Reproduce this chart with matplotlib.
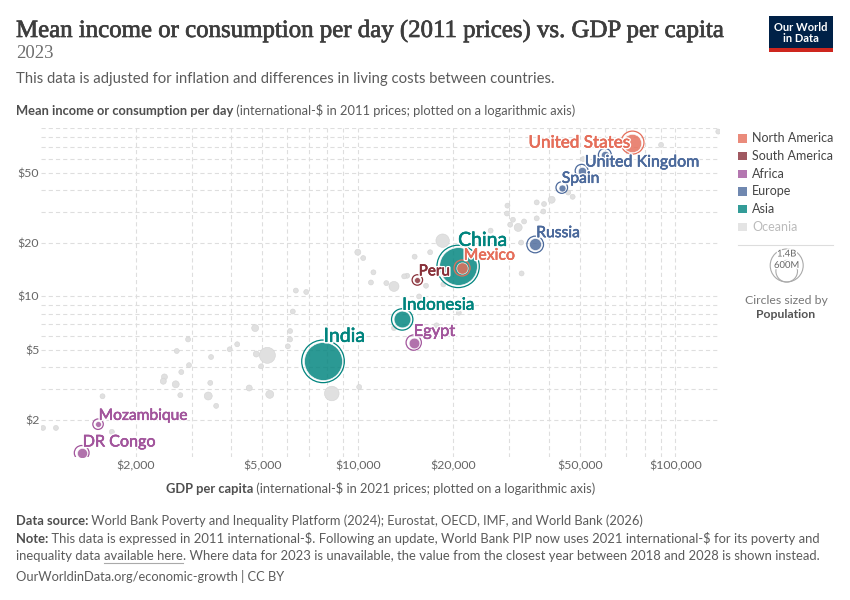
import matplotlib
matplotlib.use("Agg")
import matplotlib.pyplot as plt
import matplotlib.patheffects as pe
from matplotlib.patches import Rectangle, Circle
from matplotlib.ticker import NullFormatter
import numpy as np

plt.rcParams['font.family'] = ['Lato', 'DejaVu Sans']
plt.rcParams['lines.scale_dashes'] = False
plt.rcParams['text.parse_math'] = False

# highlighted countries
countries = ['India', 'China', 'United States', 'Indonesia', 'Russia', 'Mexico', 'Egypt',
             'DR Congo', 'United Kingdom', 'France', 'Spain', 'Peru', 'Mozambique']
continents = ['Asia', 'Asia', 'North America', 'Asia', 'Europe', 'North America', 'Africa',
              'Africa', 'Europe', 'Europe', 'Europe', 'South America', 'Africa']
gdp_pc = [7770, 20700, 73300, 13800, 36200, 21300, 15000, 1350, 60000, 50700, 43900, 15400, 1520]
income_day = [4.29, 14.8, 74.4, 7.41, 19.7, 14.5, 5.48, 1.30, 63.4, 51.5, 41.4, 12.4, 1.89]
population = [1430e6, 1410e6, 335e6, 278e6, 144e6, 128e6, 113e6, 102e6, 68e6, 68e6, 48e6, 34e6, 34e6]

# every other country (grey)
other_gdp = [136600, 90200, 51300, 46000, 47500, 40800, 38600, 36600, 38400, 29600, 29500, 30800,
             33400, 36600, 32000, 30200, 26200, 18500, 32700, 32800, 15100, 16900, 14000, 14300,
             16400, 18600, 15600, 20800, 10000, 10400, 11200, 11000, 12300, 13000, 6380, 6880,
             6240, 17700, 13000, 8280, 10100, 6120, 6120, 6020, 4750, 4790, 5190, 4960, 5280,
             4550, 3950, 4170, 2690, 2920, 2460, 2440, 2670, 2780, 2760, 2940, 3430, 3450, 3380,
             3580, 1570, 1680, 1020, 1120]
other_income = [85.9, 72.2, 60.0, 38.8, 36.7, 35.3, 33.4, 34.1, 30.3, 32.7, 29.5, 27.2,
                26.6, 27.7, 24.6, 25.5, 23.6, 20.7, 20.2, 13.5, 16.8, 17.8, 13.0, 13.1,
                11.5, 11.7, 10.0, 8.09, 17.8, 16.5, 13.7, 12.0, 11.9, 11.4, 10.8, 10.6,
                8.22, 6.86, 6.62, 2.82, 3.07, 6.37, 5.71, 5.22, 6.62, 4.72, 4.64, 4.02, 2.79,
                3.03, 5.02, 5.36, 4.91, 5.71, 3.50, 3.31, 3.18, 3.73, 2.76, 4.08, 3.24, 4.54, 2.73,
                2.40, 2.72, 1.71, 1.80, 1.80]
other_pop = [1e6, 9e6, 9e6, 10e6, 10e6, 48e6, 10e6, 10e6, 10e6, 10e6, 10e6, 10e6,
             10e6, 10e6, 63e6, 10e6, 10e6, 178e6, 10e6, 10e6, 10e6, 10e6, 5e6, 5e6,
             10e6, 10e6, 10e6, 10e6, 36e6, 10e6, 10e6, 10e6, 10e6, 99e6, 10e6, 10e6,
             10e6, 10e6, 10e6, 211e6, 15e6, 10e6, 10e6, 10e6, 48e6, 36e6, 253e6, 10e6, 63e6,
             36e6, 10e6, 10e6, 10e6, 10e6, 36e6, 36e6, 48e6, 10e6, 10e6, 10e6, 10e6, 10e6, 63e6,
             10e6, 10e6, 10e6, 10e6, 10e6]

x_ticks = [2000, 5000, 10000, 20000, 50000, 100000]
x_tick_labels = ['$2,000', '$5,000', '$10,000', '$20,000', '$50,000', '$100,000']
y_ticks = [2, 5, 10, 20, 50]
y_tick_labels = ['$2', '$5', '$10', '$20', '$50']

legend_items = ['North America', 'South America', 'Africa', 'Europe', 'Asia', 'Oceania']
colors = {'North America': '#E56E5A', 'South America': '#883039', 'Africa': '#A2559C',
          'Europe': '#4C6A9C', 'Asia': '#00847E', 'Oceania': '#9A5129'}

# label placement: dx, dy (px, up is positive), alignment, font size
label_pos = {
    'United States': (-2, 0, 'right', 12.3),
    'United Kingdom': (-20, -7.7, 'left', 11.5),
    'Spain': (0, 8.7, 'left', 11.3),
    'Russia': (1, 11.3, 'left', 11.3),
    'China': (0, 26, 'left', 14),
    'Mexico': (1.6, 12.3, 'left', 11.4),
    'Peru': (1.3, 8.6, 'left', 11),
    'Indonesia': (0, 14.7, 'left', 12.3),
    'Egypt': (0, 10.6, 'left', 11.8),
    'India': (0.5, 25, 'left', 14),
    'Mozambique': (0.6, 8.3, 'left', 11.2),
    'DR Congo': (1, 10.4, 'left', 11.6),
}


def radius(p):
    return max(2.5, 19 * np.sqrt(p / 1.43e9))


def msize(r):
    return (2 * r * 0.72) ** 2


fig = plt.figure(figsize=(8.5, 6), dpi=100)
W, H = 850, 600
left, right, top, bottom = 41, 720, 128, 457
ax = fig.add_axes([left / W, 1 - bottom / H, (right - left) / W, (bottom - top) / H])
ax.set_xscale('log')
ax.set_yscale('log')
ax.set_xlim(1005, 138300)
ax.set_ylim(1.232, 88.9)

ax.set_xticks(x_ticks, x_tick_labels)
ax.set_yticks(y_ticks, y_tick_labels)
minor_x = [k * 10 ** e for e in (3, 4) for k in range(2, 10) if k * 10 ** e not in x_ticks]
minor_y = [k * 10 ** e for e in (0, 1) for k in range(2, 10) if k * 10 ** e not in y_ticks]
ax.set_xticks(minor_x, minor=True)
ax.set_yticks(minor_y, minor=True)
ax.xaxis.set_minor_formatter(NullFormatter())
ax.yaxis.set_minor_formatter(NullFormatter())
ax.tick_params(which='both', length=0, labelsize=8.9, labelcolor='#666666')
ax.tick_params(axis='x', pad=2.5)
ax.tick_params(axis='y', pad=1.2)
ax.grid(which='both', color='#dedede', linestyle=(0, (3, 2.2)), linewidth=0.8)
ax.set_axisbelow(True)
for s in ax.spines.values():
    s.set_visible(False)

# grey countries, largest first
order = np.argsort(other_pop)[::-1]
ax.scatter(np.array(other_gdp)[order], np.array(other_income)[order],
           s=[msize(radius(other_pop[i])) for i in order],
           c='#e0e0e0', edgecolors='#d4d4d4', linewidths=0.4, zorder=2)

# highlighted countries
for name, cont, x, y, p in zip(countries, continents, gdp_pc, income_day, population):
    col = colors[cont]
    r = radius(p)
    ax.scatter([x], [y], s=msize(r + 2.3), facecolors='none', edgecolors=col,
               linewidths=0.9, zorder=3)
    ax.scatter([x], [y], s=msize(r), c=col, alpha=0.83, edgecolors='white',
               linewidths=0.5, zorder=3)
for name, cont, x, y in zip(countries, continents, gdp_pc, income_day):
    if name not in label_pos:
        continue
    dx, dy, ha, fs = label_pos[name]
    col = colors[cont]
    fx = [pe.withStroke(linewidth=2.4, foreground='white'),
          pe.Stroke(linewidth=0.35, foreground=col), pe.Normal()]
    ax.annotate(name, (x, y), xytext=(dx * 0.72, dy * 0.72), textcoords='offset points',
                ha=ha, va='center', fontsize=fs, color=col, zorder=5, path_effects=fx)

# overlay in pixel coordinates for header, footer and legends
ov = fig.add_axes([0, 0, 1, 1])
ov.set_xlim(0, W)
ov.set_ylim(H, 0)
ov.axis('off')
renderer = fig.canvas.get_renderer()


def text_width(t):
    return t.get_window_extent(renderer).width


def rich(x, y, parts, size, center=False, color='#5b5b5b'):
    arts = []
    cx = x
    for txt, weight, c in parts:
        t = ov.text(cx, y, txt, fontsize=size, fontweight=weight, color=c or color,
                    va='baseline', ha='left')
        arts.append(t)
        cx += text_width(t)
    if center:
        shift = (cx - x) / 2
        for t in arts:
            t.set_x(t.get_position()[0] - shift)
    return arts


title_fx = [pe.withStroke(linewidth=0.5, foreground='#3d3d3d')]
ov.text(16, 37, 'Mean income or consumption per day (2011 prices) vs. GDP per capita',
        fontfamily='Liberation Serif', fontsize=17.9, color='#3d3d3d', va='baseline',
        path_effects=title_fx)
ov.text(16, 58, '2023', fontfamily='Liberation Serif', fontsize=13.5, color='#6e6e6e',
        va='baseline')
ov.text(16, 83.5, 'This data is adjusted for inflation and differences in living costs between countries.',
        fontsize=10.7, color='#5b5b5b', va='baseline')

fs = 9.3
rich(16, 115, [('Mean income or consumption per day', 'bold', '#4e4e4e'),
               (' (international-$ in 2011 prices; plotted on a logarithmic axis)', 'normal', None)],
     fs)
rich((left + right) / 2, 493, [('GDP per capita', 'bold', '#4e4e4e'),
                               (' (international-$ in 2021 prices; plotted on a logarithmic axis)', 'normal', None)],
     fs, center=True)

# legend
for i, item in enumerate(legend_items):
    yc = 138.3 + i * 17.7
    faded = item == 'Oceania'
    ov.add_patch(Rectangle((738.3, yc - 4.2), 8.5, 8.5,
                           facecolor='#e4e4e4' if faded else colors[item],
                           alpha=1 if faded else 0.8, edgecolor='none'))
    ov.text(752.3, yc, item, fontsize=9, color='#bbbbbb' if faded else '#444444', va='center')
ov.plot([738, 833], [245, 245], color='#dddddd', lw=0.8)

# size legend
cx, base = 786.7, 282
for pop_val, lab in [(1.4e9, '1.4B'), (0.6e9, '600M')]:
    r = 16.5 * np.sqrt(pop_val / 1.4e9)
    ov.add_patch(Circle((cx, base - r), r, facecolor='none', edgecolor='#aaaaaa', lw=0.8))
    ov.text(cx, base - 2 * r + 5, lab, fontsize=6.8, color='#666666', ha='center', va='center',
            path_effects=[pe.withStroke(linewidth=2, foreground='white')])
ov.text(786, 300, 'Circles sized by', fontsize=8.8, color='#777777', ha='center', va='center')
ov.text(786, 314, 'Population', fontsize=8.8, fontweight='bold', color='#555555', ha='center',
        va='center')

# logo
ov.add_patch(Rectangle((769, 16), 64.3, 32.3, facecolor='#002147', edgecolor='none'))
ov.add_patch(Rectangle((769, 48.3), 64.3, 3.4, facecolor='#ce261e', edgecolor='none'))
ov.text(801, 27.7, 'Our World', fontsize=8, fontweight='bold', color='white', ha='center', va='center')
ov.text(801, 38.5, 'in Data', fontsize=8, fontweight='bold', color='white', ha='center', va='center')

# footer
note_fs = 9.4
rich(16, 525, [('Data source:', 'bold', '#4e4e4e'),
               (' World Bank Poverty and Inequality Platform (2024); Eurostat, OECD, IMF, and World Bank (2026)', 'normal', None)], fs)
rich(16, 543, [('Note:', 'bold', '#4e4e4e'),
               (' This data is expressed in 2011 international-$. Following an update, World Bank PIP now uses 2021 international-$ for its poverty and', 'normal', None)], note_fs)
parts = rich(16, 560, [('inequality data ', 'normal', None), ('available here', 'normal', None),
                       ('. Where data for 2023 is unavailable, the value from the closest year between 2018 and 2028 is shown instead.', 'normal', None)], note_fs)
link = parts[1]
lx = link.get_position()[0]
ov.plot([lx, lx + text_width(link)], [563, 563], color='#aaaaaa', lw=0.8)
ov.text(16, 581, 'OurWorldinData.org/economic-growth | CC BY', fontsize=fs, color='#5b5b5b',
        va='baseline')

fig.savefig('out.png', dpi=100)
